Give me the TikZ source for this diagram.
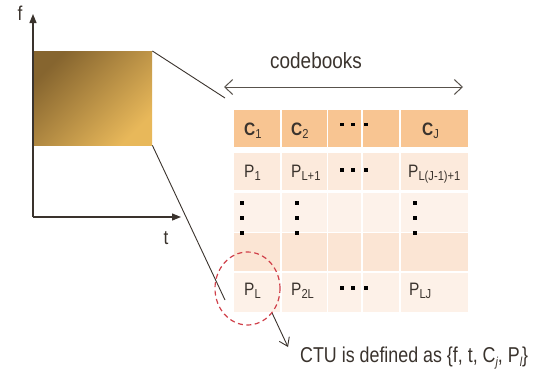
\documentclass[tikz,border=0pt]{standalone}
\usepackage{fontspec}
\setmainfont[FakeStretch=0.86]{Liberation Sans}
\newfontfamily\narrowfont[FakeStretch=0.83]{Liberation Sans}
\usetikzlibrary{arrows.meta,shapes.geometric}
\definecolor{ink}{HTML}{3A332D}
\definecolor{darkgold}{HTML}{86652F}
\definecolor{lightgold}{HTML}{E8B85A}
\definecolor{hdr}{HTML}{F8C592}
\definecolor{rowa}{HTML}{FCEADC}
\definecolor{rowb}{HTML}{FDF2EA}
\definecolor{rowc}{HTML}{FBE5D4}
\definecolor{rowd}{HTML}{FDF1E8}
\definecolor{ctured}{HTML}{D0404A}
\newcommand\sbs[1]{\raisebox{-0.22em}{\fontsize{13}{13}\selectfont #1}}
\tikzset{
  axisline/.style={draw=ink, line width=1.2pt, -{Triangle[length=9pt,width=7pt]}},
  thinline/.style={draw=ink, line width=0.9pt},
  barb/.style={draw=ink!85, line width=1pt},
  tabtxt/.style={anchor=base west, inner sep=0pt, text=ink, font=\fontsize{18}{18}\selectfont},
  dotsq/.style={fill=black, minimum size=3.8pt, inner sep=0pt, draw=none, rectangle},
  cellbox/.style={anchor=north west, inner sep=0pt, draw=none}
}
\begin{document}
\begin{tikzpicture}[x=1pt,y=-1pt]
\useasboundingbox (0,0) rectangle (541,378);
% time-frequency block
\node[cellbox, minimum width=119pt, minimum height=94pt,
      top color=darkgold, bottom color=lightgold, shading angle=45] (blk) at (33,51) {};
% axes
\coordinate (o) at (33,217);
\coordinate (ytip) at (33,14);
\coordinate (xtip) at (181,217);
\draw[axisline] (o) -- (ytip);
\draw[axisline] (o) -- (xtip);
\node[text=ink, font=\fontsize{20}{20}\selectfont, inner sep=0pt] (flab) at (20,13) {f};
\node[text=ink, font=\fontsize{20}{20}\selectfont, inner sep=0pt] (tlab) at (166,238) {t};
% table cells
\foreach \xa/\xb [count=\i] in {234.3/280, 281.7/326.7, 328.3/361, 362.7/399, 400.7/468.3}{
  \foreach \ya/\yb/\cl [count=\j] in {110/147.3/hdr, 153.3/190/rowa, 192.7/231.7/rowb, 233.3/270.7/rowc, 273.3/311.7/rowd}{
    \fill[\cl] (\xa,\ya) rectangle (\xb,\yb);
  }
}
% zoom lines
\coordinate (u1) at (225,98);
\coordinate (u2) at (225,300);
\draw[thinline] (blk.north east) -- (u1);
\draw[thinline] (blk.south east) -- (u2);
% codebooks arrow
\coordinate (cbl) at (224,87);
\coordinate (cbr) at (463,87);
\draw[barb, {Straight Barb[length=8pt,width=15pt]}-{Straight Barb[length=8pt,width=15pt]}] (cbl) -- (cbr);
\node[text=ink, font=\fontsize{22}{22}\selectfont, inner sep=0pt] (cbk) at (316,61) {codebooks};
% header
\node[tabtxt] (h1) at (244,135) {\bfseries C\sbs{\mdseries 1}};
\node[tabtxt] (h2) at (291,135) {\bfseries C\sbs{\mdseries 2}};
\node[tabtxt] (h5) at (422,135) {\bfseries C\sbs{\mdseries J}};
% row 2
\node[tabtxt] (p1) at (244,177) {P\sbs{1}};
\node[tabtxt] (p2) at (291,177) {P\sbs{L+1}};
\node[tabtxt] (p5) at (408,177) {P\sbs{L(J-1)+1}};
% row 5
\node[tabtxt] (q1) at (244,295) {P\sbs{L}};
\node[tabtxt] (q2) at (291,295) {P\sbs{2L}};
\node[tabtxt] (q5) at (409,295) {P\sbs{LJ}};
% horizontal dots
\foreach \yy [count=\k] in {124.5,170,288.3}{
  \node[dotsq] (hd\k a) at (341.7,\yy) {};
  \node[dotsq] (hd\k b) at (353.3,\yy) {};
  \node[dotsq] (hd\k c) at (365.7,\yy) {};
}
% vertical dots
\foreach \xx [count=\k] in {242,296.7,415}{
  \node[dotsq] (vd\k a) at (\xx,203.3) {};
  \node[dotsq] (vd\k b) at (\xx,218.3) {};
  \node[dotsq] (vd\k c) at (\xx,233.3) {};
}
% CTU circle
\node[ellipse, draw=ctured, line width=1.2pt, dash pattern=on 5pt off 3.5pt,
      minimum width=65pt, minimum height=73pt, inner sep=0pt] (ctu) at (247.5,288.5) {};
\coordinate (ctutip) at (288,347);
\draw[thinline, -{Straight Barb[length=8pt,width=11pt]}] (ctu.-45) -- (ctutip);
\node[anchor=west, inner sep=0pt, text=ink, font=\narrowfont\fontsize{21.5}{22}\selectfont] (ctutxt) at (300,358)
  {CTU is defined as \{f, t, C\sbs{\itshape j}, P\sbs{\itshape l}\}};
\end{tikzpicture}
\end{document}
